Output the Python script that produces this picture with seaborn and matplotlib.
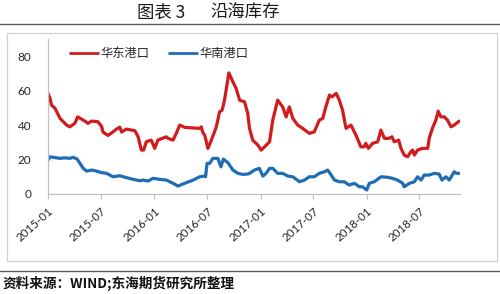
import matplotlib
matplotlib.use('Agg')
import matplotlib.pyplot as plt
import seaborn as sns
import pandas as pd
from matplotlib.patches import Rectangle
from matplotlib.lines import Line2D

# ---------------- data ----------------
east_dates = ['2015-01-01', '2015-01-08', '2015-01-13', '2015-01-25', '2015-02-11', '2015-03-06',
              '2015-03-17', '2015-04-03', '2015-04-13', '2015-04-26', '2015-05-11', '2015-05-18',
              '2015-05-31', '2015-06-21', '2015-07-04', '2015-07-09', '2015-07-26', '2015-08-12',
              '2015-08-25', '2015-09-05', '2015-09-11', '2015-09-28', '2015-10-27', '2015-11-07',
              '2015-11-18', '2015-11-26', '2015-12-05', '2015-12-22', '2016-01-03', '2016-01-14',
              '2016-01-29', '2016-02-12', '2016-02-18', '2016-03-06', '2016-03-17', '2016-03-29',
              '2016-04-15', '2016-06-06', '2016-06-11', '2016-06-17', '2016-06-23', '2016-07-04',
              '2016-07-16', '2016-08-02', '2016-08-13', '2016-08-22', '2016-08-30', '2016-09-14',
              '2016-09-28', '2016-10-09', '2016-10-21', '2016-11-07', '2016-11-18', '2016-11-24',
              '2016-12-05', '2016-12-23', '2017-01-03', '2017-01-15', '2017-02-01', '2017-02-12',
              '2017-03-01', '2017-03-18', '2017-03-30', '2017-04-10', '2017-04-22', '2017-05-09',
              '2017-05-26', '2017-06-18', '2017-07-05', '2017-07-22', '2017-08-03', '2017-08-12',
              '2017-08-26', '2017-09-04', '2017-09-18', '2017-09-29', '2017-10-10', '2017-10-22',
              '2017-11-08', '2017-11-25', '2017-12-12', '2017-12-23', '2017-12-29', '2018-01-07',
              '2018-01-21', '2018-02-08', '2018-02-19', '2018-03-03', '2018-03-18', '2018-03-29',
              '2018-04-06', '2018-04-21', '2018-04-29', '2018-05-10', '2018-05-22', '2018-06-02',
              '2018-06-08', '2018-06-14', '2018-06-25', '2018-07-12', '2018-07-30', '2018-08-04',
              '2018-08-15', '2018-08-27', '2018-09-04', '2018-09-13', '2018-09-25', '2018-10-06',
              '2018-10-18', '2018-10-29', '2018-11-15']
east_vals = [58.4, 55.6, 51.6, 49.8, 44.0, 40.0,
             39.0, 41.0, 44.8, 43.5, 42.0, 41.0,
             42.3, 42.0, 39.4, 36.0, 34.0, 36.0,
             37.7, 38.8, 36.0, 37.7, 36.7, 33.2,
             25.5, 25.5, 30.3, 31.3, 26.5, 31.3,
             32.3, 33.2, 32.3, 31.3, 35.2, 40.0,
             38.7, 38.1, 39.0, 35.5, 34.2, 26.5,
             31.3, 39.0, 47.7, 48.7, 54.5, 70.3,
             65.1, 61.3, 54.5, 53.5, 46.8, 38.1,
             31.3, 28.4, 25.5, 27.4, 30.3, 42.9,
             54.5, 50.6, 44.8, 50.6, 43.9, 40.0,
             38.1, 35.2, 36.1, 42.9, 43.9, 49.7,
             57.4, 56.4, 58.4, 54.5, 48.7, 38.1,
             40.0, 34.2, 27.4, 27.4, 29.4, 26.5,
             29.4, 30.3, 37.1, 32.3, 32.3, 33.2,
             30.3, 31.3, 26.5, 22.6, 21.6, 24.5,
             25.5, 22.6, 25.5, 26.5, 26.5, 32.3,
             38.1, 42.9, 48.1, 44.8, 44.8, 42.9,
             39.0, 40.0, 42.3]

south_dates = ['2015-01-01', '2015-01-08', '2015-01-19', '2015-02-11', '2015-02-28', '2015-03-17',
               '2015-03-29', '2015-04-11', '2015-04-21', '2015-05-02', '2015-05-14', '2015-05-31',
               '2015-06-17', '2015-07-04', '2015-07-21', '2015-08-13', '2015-09-05', '2015-09-28',
               '2015-10-21', '2015-11-13', '2015-11-24', '2015-12-11', '2015-12-28', '2016-01-20',
               '2016-02-12', '2016-03-06', '2016-03-23', '2016-04-09', '2016-05-14', '2016-06-06',
               '2016-06-23', '2016-06-26', '2016-07-01', '2016-07-10', '2016-07-21', '2016-08-07',
               '2016-08-18', '2016-08-26', '2016-09-11', '2016-09-28', '2016-10-15', '2016-11-01',
               '2016-11-18', '2016-11-24', '2016-12-11', '2016-12-28', '2017-01-09', '2017-01-20',
               '2017-02-01', '2017-02-12', '2017-03-01', '2017-03-18', '2017-04-05', '2017-04-22',
               '2017-05-15', '2017-06-01', '2017-06-18', '2017-07-05', '2017-07-22', '2017-08-09',
               '2017-08-20', '2017-09-01', '2017-09-12', '2017-09-29', '2017-10-16', '2017-11-02',
               '2017-11-20', '2017-12-07', '2017-12-18', '2018-01-01', '2018-01-10', '2018-01-27',
               '2018-02-19', '2018-03-14', '2018-03-31', '2018-04-17', '2018-05-05', '2018-05-10',
               '2018-05-28', '2018-06-14', '2018-06-25', '2018-07-07', '2018-07-18', '2018-08-04',
               '2018-08-21', '2018-09-07', '2018-09-17', '2018-10-01', '2018-10-12', '2018-10-29',
               '2018-11-06', '2018-11-15']
south_vals = [19.7, 21.6, 21.3, 20.7, 21.0, 20.7,
              21.3, 20.3, 17.8, 14.9, 13.3, 13.9,
              13.3, 12.4, 12.0, 10.0, 10.6, 9.5,
              8.5, 7.7, 8.1, 7.5, 9.1, 8.5,
              8.1, 6.2, 4.6, 5.8, 8.1, 10.0,
              10.4, 10.0, 17.8, 17.8, 20.7, 20.7,
              15.8, 20.3, 18.1, 13.9, 12.0, 11.4,
              11.6, 12.0, 13.9, 14.9, 10.4, 12.0,
              14.9, 14.9, 12.0, 12.0, 10.4, 10.0,
              7.1, 8.1, 10.0, 10.0, 12.0, 12.9,
              13.9, 11.0, 8.1, 7.1, 7.1, 5.2,
              6.2, 4.2, 4.2, 2.3, 6.2, 7.1,
              10.0, 9.7, 9.1, 8.1, 6.2, 4.2,
              6.2, 7.1, 10.0, 8.1, 11.0, 11.0,
              12.0, 11.6, 8.1, 10.0, 8.1, 12.9,
              12.0, 12.0]

series_names = ['华东港口', '华南港口']
tick_labels = ['2015-01', '2015-07', '2016-01', '2016-07', '2017-01', '2017-07', '2018-01', '2018-07']
y_ticks = [0, 20, 40, 60, 80]
title_label = '图表 3'
title_text = '沿海库存'
source_text = '资料来源：WIND;东海期货研究所整理'

# ---------------- style ----------------
sns.set_theme(style='white')
plt.rcParams['font.family'] = ['Lato', 'Noto Sans CJK SC', 'DejaVu Sans']
cjk = ['Noto Sans CJK SC', 'DejaVu Sans']

colors = {'华东港口': '#D01C1C', '华南港口': '#1F6DB5'}

df_east = pd.DataFrame({'date': pd.to_datetime(east_dates), 'value': east_vals, 'series': series_names[0]})
df_south = pd.DataFrame({'date': pd.to_datetime(south_dates), 'value': south_vals, 'series': series_names[1]})
df = pd.concat([df_east, df_south], ignore_index=True)

fig = plt.figure(figsize=(5.0, 2.94), dpi=100)

# outer chart frame, title rule and footer rule
fig.add_artist(Rectangle((7 / 500, 1 - 261 / 294), 490 / 500, 228 / 294, transform=fig.transFigure,
                         facecolor='none', edgecolor='#D0D0D0', linewidth=0.9))
fig.add_artist(Line2D([0, 1], [1 - 24.3 / 294] * 2, transform=fig.transFigure, color='#5A5A5A', linewidth=1.0))
fig.add_artist(Line2D([0, 1], [1 - 270.7 / 294] * 2, transform=fig.transFigure, color='#5A5A5A', linewidth=1.0))

fig.text(137 / 500, 1 - 12.5 / 294, title_label, ha='left', va='center', fontsize=12.5, color='#1A1A1A',
         family=cjk)
fig.text(210 / 500, 1 - 12.5 / 294, title_text, ha='left', va='center', fontsize=12.5, color='#1A1A1A',
         family=cjk)
fig.text(0.006, 1 - 283 / 294, source_text, ha='left', va='center', fontsize=9.8, fontweight='bold',
         color='#111111', family=cjk)

ax = fig.add_axes([48 / 500, 1 - 194 / 294, 412 / 500, 155 / 294])
sns.lineplot(data=df, x='date', y='value', hue='series', palette=colors, linewidth=2.3,
             ax=ax, legend=False, sort=True)

ax.set_xlim(pd.Timestamp('2015-01-01'), pd.Timestamp('2018-11-18'))
ax.set_ylim(0, 90)
ax.set_yticks(y_ticks)
ax.set_yticklabels([str(v) for v in y_ticks], fontsize=8.5, color='#262626')
ax.set_xticks(pd.to_datetime([t + '-01' for t in tick_labels]))
ax.set_xticklabels(tick_labels, rotation=42, ha='right', va='top', rotation_mode='anchor',
                   fontsize=8.3, color='#262626')
ax.set_xlabel('')
ax.set_ylabel('')

for side in ['top', 'right']:
    ax.spines[side].set_visible(False)
for side in ['left', 'bottom']:
    ax.spines[side].set_color('#C0C0C0')
    ax.spines[side].set_linewidth(0.9)
ax.tick_params(axis='y', length=0, pad=12)
ax.tick_params(axis='x', length=3.5, width=0.8, color='#C0C0C0', direction='out', pad=5, bottom=True)
ax.patch.set_alpha(0)

handles = [Line2D([], [], color=colors[n], linewidth=2.0) for n in series_names]
fig.legend(handles, series_names, loc='center left', bbox_to_anchor=(70 / 500, 1 - 53.3 / 294),
           bbox_transform=fig.transFigure, ncol=2, frameon=False,
           handlelength=2.3, handletextpad=0.2, columnspacing=1.6, borderpad=0, borderaxespad=0,
           prop={'family': cjk, 'size': 8.8})

fig.savefig('out.png', dpi=100)
